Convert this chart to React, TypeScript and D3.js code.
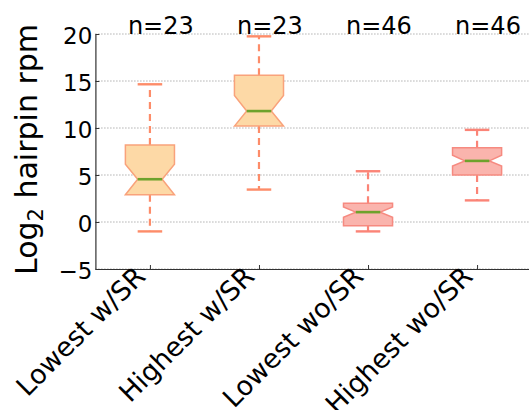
import { useEffect, useRef } from 'react';
import * as d3 from 'd3';

// box plot summary (log2 hairpin rpm)
const categories = ["Lowest w/SR", "Highest w/SR", "Lowest wo/SR", "Highest wo/SR"];
const counts = [23, 23, 46, 46];
const whiskerLow = [-1.0, 3.45, -1.0, 2.3];
const q1 = [2.9, 10.2, -0.4, 5.0];
const notchLow = [2.9, 10.2, 0.5, 5.95];
const median = [4.55, 11.8, 1.05, 6.5];
const notchHigh = [6.15, 13.45, 1.6, 7.1];
const q3 = [8.2, 15.6, 2.0, 7.9];
const whiskerHigh = [14.65, 19.75, 5.4, 9.8];
const yTicks = [-5, 0, 5, 10, 15, 20];

const fills = ["#fdd9a6", "#fdd9a6", "#fab4ad", "#fab4ad"];
const edges = ["#f9a27b", "#f9a27b", "#f68a80", "#f68a80"];
const whiskerColors = ["#fd8c69", "#fd8c69", "#fb8477", "#fb8477"];
const FONT = "DejaVu Sans";

function App() {
  const svgRef = useRef<SVGSVGElement>(null);

  useEffect(() => {
    if (!svgRef.current) return;
    const svg = d3.select(svgRef.current);
    svg.selectAll("*").remove();

    const W = 529, H = 410;
    svg.attr("width", W).attr("height", H);

    const x = d3.scaleLinear().domain([0.5, 4.5]).range([95.4, 531.6]);
    const y = d3.scaleLinear().domain([-5, 20]).range([269, 34]);
    const boxW = 0.45;

    // horizontal dotted grid
    svg.append("g")
      .selectAll("line")
      .data(yTicks)
      .enter().append("line")
      .attr("x1", x(0.5)).attr("x2", x(4.5))
      .attr("y1", d => y(d)).attr("y2", d => y(d))
      .attr("stroke", "#8a8a8a")
      .attr("stroke-width", 1)
      .attr("stroke-dasharray", "1,2");

    const data = categories.map((c, i) => ({
      name: c, pos: i + 1, n: counts[i],
      lo: whiskerLow[i], q1: q1[i], nlo: notchLow[i], med: median[i],
      nhi: notchHigh[i], q3: q3[i], hi: whiskerHigh[i], idx: i,
    }));

    const boxes = svg.append("g").selectAll("g")
      .data(data)
      .enter().append("g");

    // whiskers (dashed)
    boxes.append("line")
      .attr("x1", d => x(d.pos)).attr("x2", d => x(d.pos))
      .attr("y1", d => y(d.q3)).attr("y2", d => y(d.hi))
      .attr("stroke", d => whiskerColors[d.idx])
      .attr("stroke-width", 2.2)
      .attr("stroke-dasharray", "7,5");
    boxes.append("line")
      .attr("x1", d => x(d.pos)).attr("x2", d => x(d.pos))
      .attr("y1", d => y(d.q1)).attr("y2", d => y(d.lo))
      .attr("stroke", d => whiskerColors[d.idx])
      .attr("stroke-width", 2.2)
      .attr("stroke-dasharray", "7,5");

    // caps
    ["lo", "hi"].forEach(k => {
      boxes.append("line")
        .attr("x1", d => x(d.pos - boxW / 4)).attr("x2", d => x(d.pos + boxW / 4))
        .attr("y1", d => y(d[k])).attr("y2", d => y(d[k]))
        .attr("stroke", d => whiskerColors[d.idx])
        .attr("stroke-width", 2.4);
    });

    // notched box
    boxes.append("path")
      .attr("d", d => {
        const l = x(d.pos - boxW / 2), r = x(d.pos + boxW / 2);
        const il = x(d.pos - boxW / 4), ir = x(d.pos + boxW / 4);
        const pts: [number, number][] = [
          [l, y(d.q1)], [l, y(d.nlo)], [il, y(d.med)], [l, y(d.nhi)], [l, y(d.q3)],
          [r, y(d.q3)], [r, y(d.nhi)], [ir, y(d.med)], [r, y(d.nlo)], [r, y(d.q1)],
        ];
        return d3.line()(pts) + "Z";
      })
      .attr("fill", d => fills[d.idx])
      .attr("stroke", d => edges[d.idx])
      .attr("stroke-width", 1.5);

    // median
    boxes.append("line")
      .attr("x1", d => x(d.pos - boxW / 4)).attr("x2", d => x(d.pos + boxW / 4))
      .attr("y1", d => y(d.med)).attr("y2", d => y(d.med))
      .attr("stroke", "#6ea22c")
      .attr("stroke-width", 2.6);

    // n labels
    svg.append("g").selectAll("text")
      .data(data)
      .enter().append("text")
      .attr("x", d => x(d.pos + 0.1))
      .attr("y", y(20))
      .attr("text-anchor", "middle")
      .attr("font-family", FONT)
      .attr("font-size", 24)
      .attr("fill", "#000")
      .text(d => `n=${d.n}`);

    // axes
    const yAxis = d3.axisLeft(y)
      .tickValues(yTicks)
      .tickSizeInner(-4).tickSizeOuter(0)
      .tickPadding(3)
      .tickFormat(d => d3.format("")(d as number).replace("-", "\u2212"));
    const gy = svg.append("g")
      .attr("transform", `translate(${x(0.5)},0)`)
      .call(yAxis);
    gy.select(".domain").attr("stroke", "#333").attr("stroke-width", 1.2);
    gy.selectAll(".tick line").attr("stroke", "#333");
    gy.selectAll(".tick text")
      .attr("font-family", FONT)
      .attr("font-size", 23)
      .attr("fill", "#000")
      .attr("dy", "0.41em");

    const xAxis = d3.axisBottom(x)
      .tickValues([1, 2, 3, 4])
      .tickSizeInner(-4).tickSizeOuter(0)
      .tickFormat(() => "");
    const gx = svg.append("g")
      .attr("transform", `translate(0,${y(-5)})`)
      .call(xAxis);
    gx.select(".domain").attr("stroke", "#333").attr("stroke-width", 1.2);
    gx.selectAll(".tick line").attr("stroke", "#333");

    // rotated category labels
    svg.append("g").selectAll("text")
      .data(data)
      .enter().append("text")
      .attr("transform", d => `translate(${x(d.pos) - 3},${y(-5) + 9}) rotate(-45)`)
      .attr("text-anchor", "end")
      .attr("font-family", FONT)
      .attr("font-size", 26.8)
      .attr("fill", "#000")
      .text(d => d.name);

    // y label with subscript
    const yl = svg.append("text")
      .attr("transform", `translate(37,${(y(-5) + y(20)) / 2 - 2}) rotate(-90)`)
      .attr("text-anchor", "middle")
      .attr("font-family", FONT)
      .attr("font-size", 30)
      .attr("fill", "#000");
    yl.append("tspan").text("Log");
    yl.append("tspan").attr("font-size", 21).attr("dy", 6).text("2");
    yl.append("tspan").attr("dy", -6).text(" hairpin rpm");
  }, []);

  return (
    <div style={{ position: 'fixed', left: 0, top: 0, background: '#fff' }}>
      <svg ref={svgRef} style={{ display: 'block' }}></svg>
    </div>
  );
}

export default App;
